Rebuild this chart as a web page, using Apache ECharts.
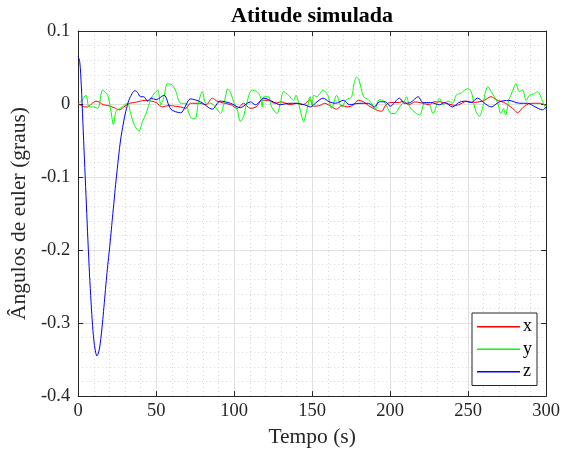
<!DOCTYPE html>
<html>
<head>
<meta charset="utf-8">
<script src="https://cdn.jsdelivr.net/npm/echarts@6/dist/echarts.min.js"></script>
<style>html,body{margin:0;padding:0;background:#fff;}#c{width:563px;height:453px;}</style>
</head>
<body>
<div id="c"></div>
<script>
// Tick labels / ranges
const xTicks = [0, 50, 100, 150, 200, 250, 300];
const yTicks = [-0.4, -0.3, -0.2, -0.1, 0, 0.1];
const seriesNames = ['x', 'y', 'z'];

// Series x (red)
const tX = [0,2,4,6,9,11.5,14,16,19,23,26.4,30,33,36,40,43,47,50,54,58,62,65.7,69,72,78,82,86,89,94,98,102,106,110.4,114,118,122,126,130,136,140,144,148.7,151,155,158,162.5,165.7,169,172.5,176,179.6,183,186,191,194.5,197,200,206,208,212,216,221,225,228,232,236,242,246,249,253,257,260.4,264.7,268,274,279.6,281.7,285,290,296,300];
const xVals = [0,-0.002,-0.004,-0.004,0.001,0.004,0.002,-0.001,-0.002,-0.005,-0.008,-0.003,0.001,0.002,0.004,0.005,0.004,0.002,-0.004,-0.002,-0.003,-0.004,-0.006,0.001,0.001,-0.001,0.008,0.004,0.001,-0.001,-0.006,0.001,-0.006,-0.004,0.005,0.005,0.001,0.003,-0.001,0.001,-0.001,0.006,-0.003,-0.002,0.001,-0.004,-0.007,-0.002,-0.004,-0.002,0.005,0.003,-0.002,-0.008,-0.01,-0.002,0.002,0.002,0.004,-0.001,0.003,0.001,-0.001,0.003,0.003,0.001,-0.002,0.001,0.004,0.002,0.003,0.005,0.01,0.006,0.001,-0.008,-0.012,-0.005,0.001,0.001,-0.002];

// Series y (green)
const tY = [0,2,5,7,10,12.6,15.7,18.9,21,22.6,24.3,27.5,31.7,33.5,36,39,41,43.4,46.6,49,51,53,55,57.2,60.4,62.5,65.7,69,71,73.2,75,77,79.6,81.8,85,88,91.3,93.5,96,98,100,102,104,106,108,111.5,114.6,116.8,118,119,122,124,127.5,129.6,131.7,134.9,138,139.6,142.3,144.5,146.6,148.7,150,151,153,157,160,162.5,165.7,169,172,175.3,176.8,178.5,180,183,186,188.7,190.2,193,196,200.9,203,206,209.4,210.5,212.6,216.8,219,222,224.6,227.5,231.7,233.8,237,240,242.3,245.5,247.7,249.8,252,253.6,255,257.2,259.4,260.9,262.6,264.7,266.8,269,271,272.7,274,276,277,279.6,280.6,282.8,284.9,287.2,289.3,292.4,294.5,297.7,300];
const yVals = [0,0.004,0.012,-0.004,-0.004,-0.006,0.019,0.012,-0.01,-0.028,-0.01,-0.005,0.001,-0.012,-0.029,-0.037,-0.025,-0.014,0.007,0.015,0.019,-0.001,0.01,0.028,0.026,0.018,0.001,0.001,-0.013,-0.02,-0.02,0.001,0.017,0.001,0.001,-0.004,-0.013,0.001,0.021,0.014,0.001,-0.008,-0.024,-0.017,0.001,0.019,0.017,0.01,-0.004,0.01,0.01,-0.004,-0.013,0.001,0.017,0.012,0.005,0.012,-0.008,-0.024,-0.008,0.01,-0.003,0.012,0.01,0.019,0.012,-0.006,0.012,-0.004,0.006,0.01,0.028,0.037,0.033,0.01,0.006,-0.001,-0.008,0.006,0.004,-0.013,-0.013,-0.004,0.005,0.01,-0.004,-0.013,-0.015,0.001,0.001,-0.013,0.008,-0.001,0.004,0.001,0.012,0.015,0.019,0.021,0.017,0.001,-0.01,-0.017,-0.004,0.015,0.024,0.017,0.01,0.001,-0.013,-0.006,-0.015,0.005,0.01,0.024,0.028,0.017,0.019,0.005,0.012,0.014,0.017,0.004,-0.008];

// Series z (blue)
const tZ = [0,1,2,3,4,5,6,7,8,9,10,11,12,13,14,15,16,17,18,19,20,21,22,23,24,25,26,27,28,29,30,31,32,33,34,35,36,37,38,40,42,44.5,46.6,50,55,59.4,65.7,72,78.5,86,91,97.7,104,110.4,113.6,119,125,129.6,135,140,145,149,152,157,161,165,170,174,180,186,190,193,197,200,206,209,213,218,221,226,231.7,235,240,244,247.7,252,256,260,264.7,270,276,283,288,293,297.7,300];
const zVals = [0.065,0.058,0.025,-0.025,-0.075,-0.125,-0.175,-0.222,-0.262,-0.297,-0.323,-0.338,-0.345,-0.341,-0.33,-0.312,-0.29,-0.266,-0.242,-0.22,-0.2,-0.178,-0.155,-0.133,-0.11,-0.09,-0.07,-0.052,-0.038,-0.026,-0.015,-0.006,0.002,0.008,0.012,0.016,0.018,0.018,0.016,0.01,0.01,0.004,0.008,0.006,0.012,-0.007,-0.012,0.007,0.003,-0.007,0.004,0.001,-0.005,0.003,-0.001,0.008,0.003,-0.001,0.001,0.001,-0.001,-0.004,0.001,0.008,0.003,0.001,0.005,-0.001,0.001,0.001,-0.004,0.003,0.003,-0.003,0.008,0.001,0.002,0.01,0.002,0.002,-0.001,0.002,-0.004,0.002,0.004,0.002,0.008,0.002,-0.004,0.003,0.005,0.001,0.001,-0.004,-0.008,-0.004];

const pairs = (t, v) => t.map((tt, i) => [tt, v[i]]);
const FONT = 'Liberation Serif';
const INK = '#262626';

const chart = echarts.init(document.getElementById('c'), null, {renderer: 'canvas'});

const xMin = xTicks[0], xMax = xTicks[xTicks.length - 1], xInt = xTicks[1] - xTicks[0];
const yMin = yTicks[0], yMax = yTicks[yTicks.length - 1], yInt = 0.1;

const minorTick = {show: true, splitNumber: 5, length: 0, lineStyle: {opacity: 0}};
const baseX = {
  type: 'value', min: xMin, max: xMax, interval: xInt,
  axisLine: {show: true, onZero: false, lineStyle: {color: INK, width: 1}},
  axisTick: {show: true, inside: true, length: 5, lineStyle: {color: INK}},
  minorTick: minorTick,
};
const baseY = {
  type: 'value', min: yMin, max: yMax, interval: yInt,
  axisLine: {show: true, onZero: false, lineStyle: {color: INK, width: 1}},
  axisTick: {show: true, inside: true, length: 5, lineStyle: {color: INK}},
  minorTick: minorTick,
};

chart.setOption({
  animation: false,
  backgroundColor: '#fff',
  textStyle: {fontFamily: FONT, color: INK},
  grid: {left: 77, right: 16, top: 31, bottom: 56},
  graphic: [{
    type: 'text', x: 312, y: 5,
    style: {text: 'Atitude simulada', font: 'bold 22px "Liberation Serif"', fill: '#000', align: 'center', verticalAlign: 'top'}
  }],
  legend: {
    orient: 'vertical', left: 472, top: 313,
    backgroundColor: '#fff', borderColor: INK, borderWidth: 1, borderRadius: 0,
    padding: [4, 5, 4, 5], itemGap: 3, itemWidth: 43, itemHeight: 1.5, icon: 'rect',
    textStyle: {fontFamily: FONT, fontSize: 18, color: '#000', lineHeight: 19.5, padding: [0, 0, 0, -2]},
    data: seriesNames
  },
  xAxis: [
    Object.assign({}, baseX, {
      position: 'bottom',
      name: 'Tempo (s)', nameLocation: 'middle', nameGap: 28,
      nameTextStyle: {fontFamily: FONT, fontSize: 21.5, color: INK},
      axisLabel: {fontFamily: FONT, fontSize: 18.5, color: INK, margin: 6},
      splitLine: {show: true, lineStyle: {color: '#e0e0e0', width: 1}},
      minorSplitLine: {show: true, lineStyle: {color: '#d6d6d6', width: 1, type: [1, 3]}}
    }),
    Object.assign({}, baseX, {position: 'top', axisLabel: {show: false}, splitLine: {show: false}})
  ],
  yAxis: [
    Object.assign({}, baseY, {
      position: 'left',
      name: 'Ângulos de euler (graus)', nameLocation: 'middle', nameGap: 41,
      nameTextStyle: {fontFamily: FONT, fontSize: 21.5, color: INK},
      axisLabel: {fontFamily: FONT, fontSize: 18.5, color: INK, margin: 8,
        formatter: v => (Math.round(v * 10) / 10).toString()},
      splitLine: {show: true, lineStyle: {color: '#e0e0e0', width: 1}},
      minorSplitLine: {show: true, lineStyle: {color: '#d6d6d6', width: 1, type: [1, 3]}}
    }),
    Object.assign({}, baseY, {position: 'right', axisLabel: {show: false}, splitLine: {show: false}})
  ],
  series: [
    {name: 'x', type: 'line', data: pairs(tX, xVals), symbol: 'none', smooth: 0.3, lineStyle: {color: '#ff0000', width: 1}, itemStyle: {color: '#ff0000'}},
    {name: 'y', type: 'line', data: pairs(tY, yVals), symbol: 'none', smooth: 0.3, lineStyle: {color: '#00ff00', width: 1}, itemStyle: {color: '#00ff00'}},
    {name: 'z', type: 'line', data: pairs(tZ, zVals), symbol: 'none', smooth: 0.3, lineStyle: {color: '#0000ff', width: 1}, itemStyle: {color: '#0000ff'}}
  ]
});
</script>
</body>
</html>
